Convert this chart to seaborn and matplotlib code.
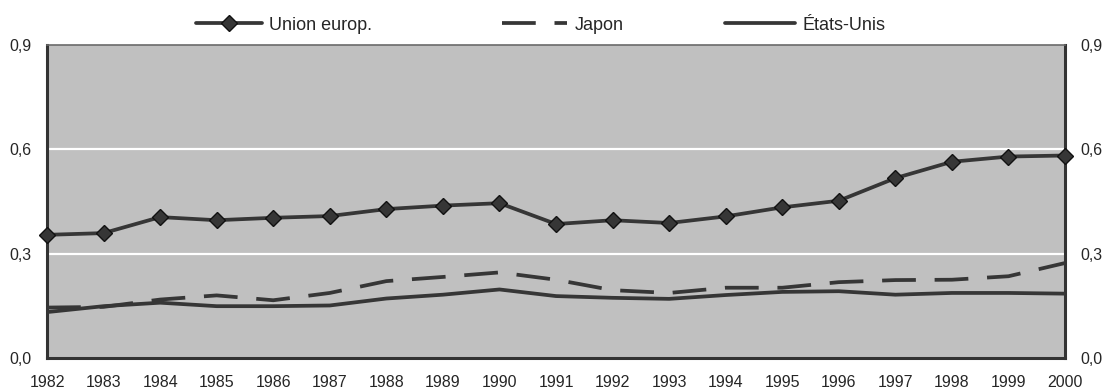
import numpy as np
import matplotlib
matplotlib.use("Agg")
import matplotlib.pyplot as plt
import seaborn as sns
import pandas as pd

years = list(range(1982, 2001))
union_europ = [0.354, 0.359, 0.405, 0.396, 0.403, 0.408, 0.428, 0.438, 0.445, 0.385,
               0.396, 0.388, 0.407, 0.433, 0.452, 0.517, 0.564, 0.579, 0.582]
japon = [0.145, 0.147, 0.168, 0.180, 0.166, 0.187, 0.221, 0.233, 0.246, 0.225,
         0.195, 0.187, 0.202, 0.202, 0.218, 0.224, 0.225, 0.235, 0.273]
etats_unis = [0.132, 0.149, 0.159, 0.149, 0.149, 0.151, 0.171, 0.182, 0.197, 0.178,
              0.173, 0.170, 0.181, 0.190, 0.192, 0.182, 0.187, 0.187, 0.185]
series_names = ["Union europ.", "Japon", "États-Unis"]
y_ticks = [0.0, 0.3, 0.6, 0.9]
y_labels = ["0,0", "0,3", "0,6", "0,9"]

df = pd.DataFrame({
    "year": years * 3,
    "value": union_europ + japon + etats_unis,
    "serie": [series_names[0]] * 19 + [series_names[1]] * 19 + [series_names[2]] * 19,
})

sns.set_style("white")
plt.rcParams["font.family"] = ["Liberation Sans", "DejaVu Sans"]

line_col = "#363636"
jp_dash = (9, 5)
fig = plt.figure(figsize=(11.04, 3.9), dpi=100)
ax = fig.add_axes([0.0426, 0.082, 0.9221, 0.803])
ax.set_facecolor("#c0c0c0")

# Japon et Etats-Unis : lignes sans marqueurs
sns.lineplot(data=df[df["serie"] != "Union europ."], x="year", y="value",
             hue="serie", style="serie",
             palette={n: line_col for n in series_names[1:]},
             dashes={"Japon": jp_dash, "États-Unis": ""},
             linewidth=2.7, ax=ax, legend=False, zorder=3)
# Union europ. : ligne avec losanges
sns.lineplot(data=df[df["serie"] == "Union europ."], x="year", y="value",
             color=line_col, marker="D", linewidth=2.7, markersize=8.5,
             markeredgecolor="#111111", markeredgewidth=1.0, ax=ax,
             legend=False, clip_on=False, zorder=4)

ax.set_xlim(1982, 2000)
ax.set_ylim(0, 0.9)
ax.set_xticks(years)
ax.set_xticklabels([str(y) for y in years], fontsize=11.5)
ax.set_yticks(y_ticks)
ax.set_yticklabels(y_labels, fontsize=11.5)
for yv in [0.3, 0.6]:
    ax.axhline(yv, color="white", lw=1.6, zorder=1)
ax.tick_params(axis="x", direction="in", length=5, width=1, color="#555555", pad=12)
ax.tick_params(axis="y", length=0, pad=11, labelright=True, labelleft=True)
for s in ax.spines.values():
    s.set_color("#333333")
    s.set_linewidth(2.2)
ax.spines["top"].set_color("#6a6a6a")
ax.spines["top"].set_linewidth(1.2)
ax.set_xlabel("")
ax.set_ylabel("")

# legende : trois entrees placees separement
handles = [
    plt.Line2D([], [], color=line_col, lw=2.7, marker="D", markersize=8.5,
               markeredgecolor="#111111"),
    plt.Line2D([], [], color=line_col, lw=2.7, dashes=jp_dash),
    plt.Line2D([], [], color=line_col, lw=2.7),
]
leg_x = [196, 502, 725]
leg_len = [3.65, 3.6, 3.9]
for h, name, x0, hl in zip(handles, series_names, leg_x, leg_len):
    fig.legend([h], [name], loc="center left", frameon=False,
               bbox_to_anchor=(x0 / 1104, 1 - 25 / 390), fontsize=13,
               handlelength=hl, handletextpad=0.4, borderpad=0, borderaxespad=0)

fig.savefig("out.png", dpi=100, facecolor="white")
